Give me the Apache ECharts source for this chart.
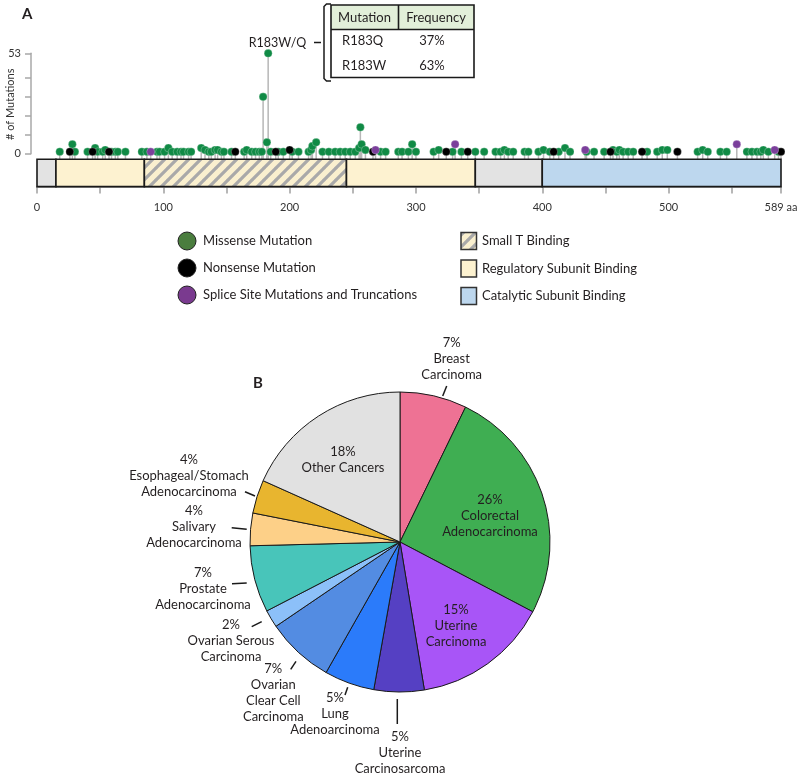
<!DOCTYPE html>
<html><head><meta charset="utf-8">
<script src="https://cdn.jsdelivr.net/npm/echarts@6/dist/echarts.min.js"></script>
<style>html,body{margin:0;padding:0;background:#fff}#c{width:800px;height:776px}</style>
</head><body><div id="c"></div>
<script>
// ---------------- Panel A data ----------------
const missensePos = [18,28,30,40,46,48,52,54,59,62,64,70,83,87,95,97,101,104,107,111,114,116,120,122,130,133,136,138,141,143,146,148,154,164,166,170,173,176,178,179,182,183,185,191,195,202,207,215,217,218,221,226,231,236,240,244,248,252,255,256,257,260,272,276,286,289,294,297,300,314,318,329,336,347,354,363,367,370,373,377,386,389,397,401,406,413,418,422,435,441,449,456,459,461,464,468,472,483,491,495,499,523,527,531,541,546,562,566,570,573,575,579,587];
const missenseCount = [1,5,1,1,3,1,1,2,1,1,1,1,1,1,1,1,1,3,1,1,1,1,1,1,3,2,1,1,2,2,1,1,1,1,2,1,1,1,1,30,6,53,1,1,1,1,1,1,2,4,6,1,1,1,1,1,1,1,3,14,5,2,1,1,1,1,1,5,1,1,2,1,1,1,1,1,1,2,1,1,1,1,1,2,1,1,3,1,1,1,1,2,1,2,1,1,1,1,1,2,2,1,2,1,1,1,1,1,1,1,2,1,1];
const nonsensePos = [26,44,57,157,189,200,266,324,341,409,454,479,507,589];
const nonsenseCount = [1,1,1,1,1,2,1,1,1,1,1,1,1,1];
const splicePos = [90,268,331,434,554,584];
const spliceCount = [1,2,5,2,5,2];

const domainStart = [0,15,85,245,347,400];
const domainEnd   = [15,85,245,347,400,589];
const domainKind  = ['none','reg','smallT','reg','none','cat'];

const proteinTicks  = [0,50,100,150,200,250,300,350,400,450,500,550,589];
const proteinLabels = [0,100,200,300,400,500,589];
const countTicks  = [0,10,20,30,40,53];
const countLabels = [0,53];
const countAxisName = '# of Mutations';

const mutationLegend = ['Missense Mutation','Nonsense Mutation','Splice Site Mutations and Truncations'];
const domainLegend   = ['Small T Binding','Regulatory Subunit Binding','Catalytic Subunit Binding'];
const hotspotLabel   = 'R183W/Q';
const tableHeader    = ['Mutation','Frequency'];
const tableMutation  = ['R183Q','R183W'];
const tableFrequency = ['37%','63%'];

// ---------------- Panel B data ----------------
const cancerNames = ['Breast\nCarcinoma','Colorectal\nAdenocarcinoma','Uterine\nCarcinoma','Uterine\nCarcinosarcoma','Lung\nAdenoarcinoma','Ovarian\nClear Cell\nCarcinoma','Ovarian Serous\nCarcinoma','Prostate\nAdenocarcinoma','Salivary\nAdenocarcinoma','Esophageal/Stomach\nAdenocarcinoma','Other Cancers'];
const cancerShare = [7.2,25.5,14.7,5.4,5.4,7.3,1.9,7.2,3.5,3.6,18.3];

// ---------------- styles ----------------
const FONT = 'Lato, "Open Sans", sans-serif';
const TXT = '#231f20';
const cMiss = '#108a45', cNon = '#000000', cSpl = '#7b3f9b';
const legMiss = '#4a7d3e', legNon = '#000000', legSpl = '#7a3a8f';
const pieColors = ['#ee7294','#3fae52','#a855f7','#5540c3','#2b7bfa','#538ce2','#8cc0f9','#48c5ba','#fdd088','#e8b52f','#e1e1e1'];

function hatchCanvas(){
  const s = 12, c = document.createElement('canvas');
  c.width = s; c.height = s;
  const g = c.getContext('2d');
  g.fillStyle = '#faf0cf'; g.fillRect(0,0,s,s);
  g.strokeStyle = '#a9a9a9'; g.lineWidth = 3.2; g.beginPath();
  for (const o of [-s,0,s]) { g.moveTo(o-1, s+1); g.lineTo(o+s+1, -1); }
  g.stroke();
  return c;
}
const hatch = {image: hatchCanvas(), repeat: 'repeat'};
const domainFill = {none:'#e3e3e3', reg:'#fdf2d0', smallT:hatch, cat:'#bdd7ee'};

const allMut = [];
missensePos.forEach((p,i)=>allMut.push([p, missenseCount[i]]));
nonsensePos.forEach((p,i)=>allMut.push([p, nonsenseCount[i]]));
splicePos.forEach((p,i)=>allMut.push([p, spliceCount[i]]));

// pie label placement (layout)
const pieLab = [
  {x:451.7, y:359.3, line:[[446.7,386],[442.7,396]]},
  {x:490,   y:516},
  {x:456,   y:625.7},
  {x:400,   y:752.7, line:[[397.3,699],[397.3,724]]},
  {x:335,   y:714.3, line:[[347.7,687.3],[345,695]]},
  {x:273.3, y:693.3, line:[[296,661.3],[290.7,669.3]]},
  {x:231,   y:641,   line:[[261.7,621.7],[251.7,626.7]]},
  {x:203,   y:589,   line:[[246.7,583],[232,583.7]]},
  {x:194,   y:527,   line:[[246.7,529.3],[231.7,527.7]]},
  {x:189,   y:475.5, line:[[255,496],[245,491.7]]},
  {x:343,   y:459.5}
];

const chart = echarts.init(document.getElementById('c'), null, {renderer:'canvas', width:800, height:776});

const legendGraphics = [];
[legMiss, legNon, legSpl].forEach((col,i)=>{
  const cy = 241 + i*27;
  legendGraphics.push({type:'circle', shape:{cx:187, cy:cy, r:9}, style:{fill:col, stroke:'#222', lineWidth:1}});
  legendGraphics.push({type:'text', x:203, y:cy, style:{text:mutationLegend[i], font:'13px '+FONT, fill:TXT, textVerticalAlign:'middle'}});
});
[hatch, domainFill.reg, domainFill.cat].forEach((f,i)=>{
  const cy = 241 + i*27.5;
  legendGraphics.push({type:'rect', shape:{x:461, y:cy-8.5, width:15.5, height:17}, style:{fill:f, stroke:'#333', lineWidth:1.5}});
  legendGraphics.push({type:'text', x:482, y:cy, style:{text:domainLegend[i], font:'13px '+FONT, fill:TXT, textVerticalAlign:'middle'}});
});

const tableGraphics = [
  {type:'rect', shape:{x:331, y:5, width:143, height:24.5}, style:{fill:'#e2efd9'}},
  {type:'rect', shape:{x:331, y:5, width:143, height:72.5}, style:{fill:'none', stroke:'#1a1a1a', lineWidth:1.6}},
  {type:'line', shape:{x1:331, y1:29.5, x2:474, y2:29.5}, style:{stroke:'#1a1a1a', lineWidth:1.6}},
  {type:'line', shape:{x1:398.5, y1:5, x2:398.5, y2:29.5}, style:{stroke:'#1a1a1a', lineWidth:1.6}},
  {type:'text', x:364.5, y:17.5, style:{text:tableHeader[0], font:'13px '+FONT, fill:TXT, textAlign:'center', textVerticalAlign:'middle'}},
  {type:'text', x:436, y:17.5, style:{text:tableHeader[1], font:'13px '+FONT, fill:TXT, textAlign:'center', textVerticalAlign:'middle'}},
  {type:'polyline', shape:{points:[[331,4],[326.5,4],[324,6.5],[324,78.5],[326.5,81],[331,81]]}, style:{fill:'none', stroke:'#1a1a1a', lineWidth:1.5}},
  {type:'line', shape:{x1:314, y1:42.5, x2:321, y2:42.5}, style:{stroke:'#1a1a1a', lineWidth:1.5}},
  {type:'text', x:277.5, y:42.5, style:{text:hotspotLabel, font:'12.5px '+FONT, fill:TXT, textAlign:'center', textVerticalAlign:'middle'}},
  {type:'text', x:22, y:14, style:{text:'A', font:'bold 15px '+FONT, fill:TXT, textVerticalAlign:'middle'}},
  {type:'text', x:253, y:383, style:{text:'B', font:'bold 15px '+FONT, fill:TXT, textVerticalAlign:'middle'}},
  {type:'text', x:10.5, y:140, rotation:Math.PI/2, style:{text:countAxisName, font:'11px '+FONT, fill:'#333', textAlign:'left', textVerticalAlign:'middle'}}
];
tableMutation.forEach((m,i)=>{
  const y = 41 + i*24.7;
  tableGraphics.push({type:'text', x:342, y:y, style:{text:m, font:'13px '+FONT, fill:TXT, textVerticalAlign:'middle'}});
  tableGraphics.push({type:'text', x:432, y:y, style:{text:tableFrequency[i], font:'13px '+FONT, fill:TXT, textAlign:'center', textVerticalAlign:'middle'}});
});

const option = {
  animation: false,
  backgroundColor: '#fff',
  textStyle: {fontFamily: FONT},
  grid: [
    {left:37, right:19, top:53.3, height:105.7, outerBoundsMode:'none'},
    {left:31, width:1, top:53.3, height:100.4, outerBoundsMode:'none'},
    {left:37, right:19, top:159.3, height:27.3, outerBoundsMode:'none'}
  ],
  xAxis: [
    {gridIndex:0, type:'value', min:0, max:589, show:false},
    {gridIndex:1, type:'value', min:0, max:1, show:false},
    {gridIndex:2, type:'value', min:0, max:589, offset:5.5,
     axisLine:{show:true, lineStyle:{color:'#a0a0a0', width:1.5}},
     axisTick:{show:true, length:7, customValues:proteinTicks, lineStyle:{color:'#a0a0a0', width:1.5}},
     axisLabel:{customValues:proteinLabels, margin:10, fontSize:11, color:'#333', fontFamily:FONT,
       formatter:v=> v===589 ? '589 aa' : String(v)},
     splitLine:{show:false}}
  ],
  yAxis: [
    {gridIndex:0, type:'value', min:-2.8, max:53, show:false},
    {gridIndex:1, type:'value', min:0, max:53,
     axisLine:{show:true, lineStyle:{color:'#a8a8a8', width:1.5}},
     axisTick:{show:true, length:6, customValues:countTicks, lineStyle:{color:'#a8a8a8', width:1.5}},
     axisLabel:{customValues:countLabels, margin:10, fontSize:11, color:'#333', fontFamily:FONT},
     splitLine:{show:false}},
    {gridIndex:2, type:'value', min:0, max:1, show:false}
  ],
  series: [
    {type:'custom', xAxisIndex:0, yAxisIndex:0, silent:true, data:allMut,
     renderItem(params, api){
       const cs = params.coordSys;
       const p = api.coord([api.value(0), api.value(1)]);
       return {type:'line', shape:{x1:p[0], y1:cs.y+cs.height, x2:p[0], y2:p[1]},
               style:{stroke:'#b7b7b7', lineWidth:1.5}};
     }},
    {type:'scatter', name:mutationLegend[0], xAxisIndex:0, yAxisIndex:0, symbolSize:8, silent:true,
     itemStyle:{color:cMiss, borderColor:'rgba(255,255,255,0.5)', borderWidth:0.5, opacity:1},
     data: missensePos.map((p,i)=>[p, missenseCount[i]])},
    {type:'scatter', name:mutationLegend[1], xAxisIndex:0, yAxisIndex:0, symbolSize:8, silent:true,
     itemStyle:{color:cNon, borderColor:'rgba(255,255,255,0.5)', borderWidth:0.5, opacity:1},
     data: nonsensePos.map((p,i)=>[p, nonsenseCount[i]])},
    {type:'scatter', name:mutationLegend[2], xAxisIndex:0, yAxisIndex:0, symbolSize:8, silent:true,
     itemStyle:{color:cSpl, borderColor:'rgba(255,255,255,0.5)', borderWidth:0.5, opacity:1},
     data: splicePos.map((p,i)=>[p, spliceCount[i]])},
    {type:'custom', xAxisIndex:2, yAxisIndex:2, silent:true,
     data: domainStart.map((s,i)=>[s, domainEnd[i], i]),
     encode:{x:[0,1]},
     renderItem(params, api){
       const cs = params.coordSys;
       const x0 = api.coord([api.value(0), 0])[0];
       const x1 = api.coord([api.value(1), 0])[0];
       return {type:'rect', shape:{x:x0, y:cs.y, width:x1-x0, height:cs.height},
               style:{fill:domainFill[domainKind[api.value(2)]], stroke:'#1a1a1a', lineWidth:1.6}};
     }},
    {type:'pie', center:[400,542], radius:150, startAngle:90, clockwise:true,
     avoidLabelOverlap:false, silent:true, emphasis:{disabled:true},
     itemStyle:{borderColor:'#1a1a1a', borderWidth:1},
     label:{show:true, position:'outside', fontSize:13, lineHeight:16, color:TXT, fontFamily:FONT, align:'center',
       formatter:p=> Math.round(p.value) + '%\n' + p.name},
     labelLine:{show:true, length:5, length2:0, lineStyle:{color:'#1a1a1a', width:1.5}},
     labelLayout(params){
       const L = pieLab[params.dataIndex];
       const r = {x:L.x, y:L.y, align:'center', verticalAlign:'middle'};
       if (L.line) r.labelLinePoints = [L.line[0], L.line[1], L.line[1]];
       return r;
     },
     data: cancerNames.map((n,i)=>({name:n, value:cancerShare[i], itemStyle:{color:pieColors[i]},
       labelLine:{show: !!pieLab[i].line}}))}
  ],
  graphic: legendGraphics.concat(tableGraphics)
};
chart.setOption(option);
</script>
</body></html>
